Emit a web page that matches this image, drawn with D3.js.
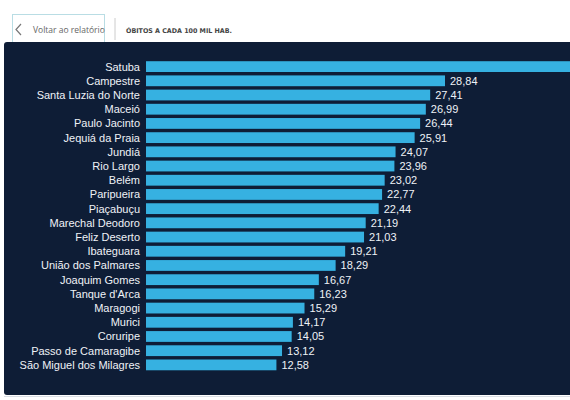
<!DOCTYPE html>
<html>
<head>
<meta charset="utf-8">
<script src="https://cdn.jsdelivr.net/npm/d3@7"></script>
<style>
  body { margin: 0; background: #fff; }
  svg { display: block; }
</style>
</head>
<body>
<div id="chart"></div>
<script>
const cidades = ["Satuba", "Campestre", "Santa Luzia do Norte", "Maceió", "Paulo Jacinto",
  "Jequiá da Praia", "Jundiá", "Rio Largo", "Belém", "Paripueira", "Piaçabuçu",
  "Marechal Deodoro", "Feliz Deserto", "Ibateguara", "União dos Palmares",
  "Joaquim Gomes", "Tanque d'Arca", "Maragogi", "Murici", "Coruripe",
  "Passo de Camaragibe", "São Miguel dos Milagres"];
// Satuba is cut off at the right edge, value estimated
const obitos = [43.5, 28.84, 27.41, 26.99, 26.44, 25.91, 24.07, 23.96, 23.02, 22.77, 22.44,
  21.19, 21.03, 19.21, 18.29, 16.67, 16.23, 15.29, 14.17, 14.05, 13.12, 12.58];

const data = cidades.map((c, i) => ({ cidade: c, valor: obitos[i] }));

const width = 570, height = 400;
const svg = d3.select("#chart").append("svg")
  .attr("width", width)
  .attr("height", height);

// header
const btn = svg.append("g");
btn.append("rect")
  .attr("x", 12.5).attr("y", 14.5)
  .attr("width", 92).attr("height", 30)
  .attr("fill", "#fff")
  .attr("stroke", "#b9dde4");
btn.append("path")
  .attr("d", "M21,24 L16,29.5 L21,35")
  .attr("fill", "none")
  .attr("stroke", "#777")
  .attr("stroke-width", 1.2);
btn.append("text")
  .attr("x", 33).attr("y", 33)
  .attr("font-family", "'Segoe UI', 'Open Sans', sans-serif")
  .attr("font-size", 8.5)
  .attr("fill", "#666")
  .text("Voltar ao relatório");

svg.append("line")
  .attr("x1", 115).attr("x2", 115)
  .attr("y1", 18).attr("y2", 40)
  .attr("stroke", "#ccc");

svg.append("text")
  .attr("x", 126).attr("y", 33)
  .attr("font-family", "'DejaVu Sans', sans-serif")
  .attr("font-size", 6.5)
  .attr("font-weight", "bold")
  .attr("textLength", 106)
  .attr("lengthAdjust", "spacingAndGlyphs")
  .attr("fill", "#444")
  .text("ÓBITOS A CADA 100 MIL HAB.");

// dark panel
svg.append("rect")
  .attr("x", 4).attr("y", 42)
  .attr("width", 580).attr("height", 353)
  .attr("rx", 3)
  .attr("fill", "#0e1d36");

svg.append("line")
  .attr("x1", 4).attr("x2", 570)
  .attr("y1", 396.5).attr("y2", 396.5)
  .attr("stroke", "#d8dde3");

const x = d3.scaleLinear()
  .domain([0, 28.84])
  .range([146, 445]);

const y = d3.scaleBand()
  .domain(cidades)
  .range([57.8, 373.7])
  .padding(0.24);

svg.selectAll(".bar")
  .data(data)
  .enter()
  .append("rect")
  .attr("class", "bar")
  .attr("x", x(0))
  .attr("y", d => y(d.cidade))
  .attr("width", d => x(d.valor) - x(0))
  .attr("height", y.bandwidth())
  .attr("fill", "#36b1e1");

svg.selectAll(".nome")
  .data(data)
  .enter()
  .append("text")
  .attr("class", "nome")
  .attr("x", 140)
  .attr("y", d => y(d.cidade) + y.bandwidth() / 2)
  .attr("dy", "0.36em")
  .attr("text-anchor", "end")
  .attr("font-family", "'Liberation Sans', Arial, sans-serif")
  .attr("font-size", 11)
  .attr("fill", "#eef2f7")
  .text(d => d.cidade);

const fmt = v => d3.format(".2f")(v).replace(".", ",");

// the label of a bar that runs past the window is not shown
svg.selectAll(".valor")
  .data(data.filter(d => x(d.valor) + 40 < width))
  .enter()
  .append("text")
  .attr("class", "valor")
  .attr("x", d => x(d.valor) + 5)
  .attr("y", d => y(d.cidade) + y.bandwidth() / 2)
  .attr("dy", "0.36em")
  .attr("font-family", "'Liberation Sans', Arial, sans-serif")
  .attr("font-size", 11)
  .attr("fill", "#eef2f7")
  .text(d => fmt(d.valor));
</script>
</body>
</html>
